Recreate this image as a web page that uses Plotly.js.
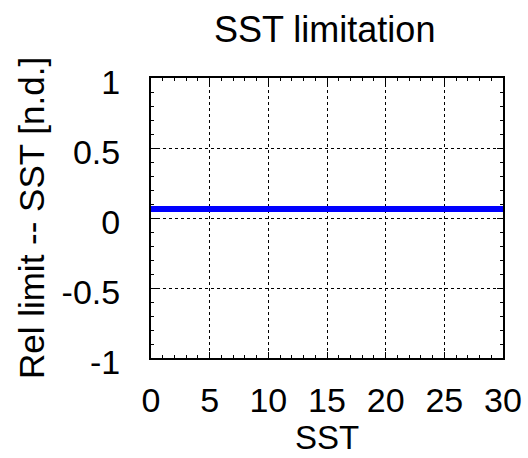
<!DOCTYPE html>
<html>
<head>
<meta charset="utf-8">
<script src="https://cdn.plot.ly/plotly-3.0.1.min.js"></script>
<style>html,body{margin:0;padding:0;background:#fff;}#chart{width:528px;height:458px;}</style>
</head>
<body>
<div id="chart"></div>
<script>
// Data
const sst = [0, 5, 10, 15, 20, 25, 30];
const relLimit = [0.065, 0.065, 0.065, 0.065, 0.065, 0.065, 0.065];
const xTicks = [0, 5, 10, 15, 20, 25, 30];
const yTicks = [-1, -0.5, 0, 0.5, 1];
const yTickText = ['-1', '-0.5', '0', '0.5', '1'];

const fontFamily = 'Liberation Sans, Arial, Helvetica, sans-serif';

const trace = {
  x: sst,
  y: relLimit,
  type: 'scatter',
  mode: 'lines',
  line: {color: '#0000ff', width: 6},
  showlegend: false,
  hoverinfo: 'skip'
};

const axisCommon = {
  showline: true,
  linecolor: '#000',
  linewidth: 2,
  mirror: 'allticks',
  ticks: 'inside',
  ticklen: 6,
  tickwidth: 1,
  tickcolor: '#000',
  showgrid: true,
  gridcolor: '#000',
  gridwidth: 1,
  griddash: 'dot',
  zeroline: false,
  tickfont: {family: fontFamily, size: 34, color: '#000'}
};

const layout = {
  width: 528,
  height: 458,
  margin: {l: 151, r: 25, t: 78, b: 100},
  paper_bgcolor: '#fff',
  plot_bgcolor: '#fff',
  title: {
    text: 'SST limitation',
    font: {family: fontFamily, size: 36, color: '#000'},
    x: 0.615, xanchor: 'center',
    y: 0.935, yanchor: 'middle'
  },
  xaxis: Object.assign({}, axisCommon, {
    range: [0, 30],
    tickmode: 'array',
    tickvals: xTicks,
    ticktext: xTicks.map(String),
    ticklabelstandoff: 11,
    minor: {ticks: 'inside', ticklen: 3, dtick: 1, tickcolor: '#000', showgrid: false},
    title: {text: 'SST', font: {family: fontFamily, size: 33, color: '#000'}, standoff: 0}
  }),
  yaxis: Object.assign({}, axisCommon, {
    range: [-1, 1],
    tickmode: 'array',
    tickvals: yTicks,
    ticktext: yTickText,
    ticklabelshift: 4,
    ticklabelstandoff: 22,
    minor: {ticks: 'inside', ticklen: 3, dtick: 0.1, tickcolor: '#000', showgrid: false},
    title: {text: 'Rel limit -- SST [n.d.]', font: {family: fontFamily, size: 35, color: '#000'}, standoff: 6}
  })
};

Plotly.newPlot('chart', [trace], layout, {displayModeBar: false, staticPlot: true});
</script>
</body>
</html>
